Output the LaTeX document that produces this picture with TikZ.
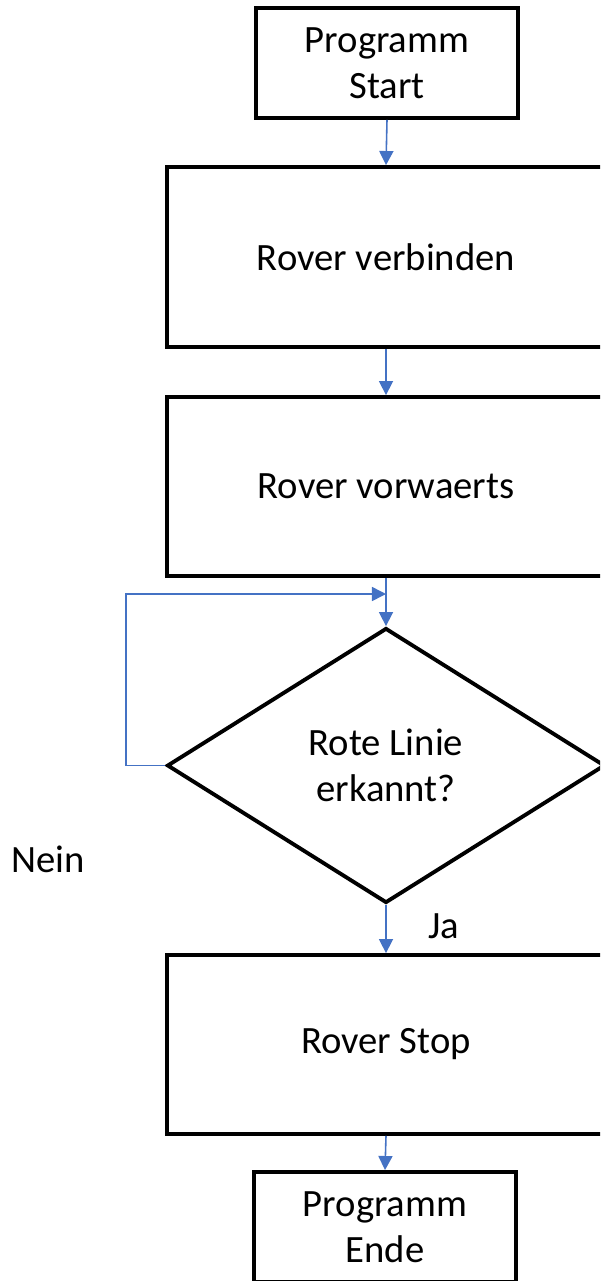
\documentclass[tikz,border=0pt]{standalone}
\usepackage{fontspec}
\setmainfont{Carlito}
\usetikzlibrary{shapes.geometric, arrows.meta, positioning}
\definecolor{flowblue}{RGB}{68,114,196}

\begin{document}
\begin{tikzpicture}[x=0.02cm, y=-0.02cm,
  box/.style={draw, line width=2.2pt, align=center, font=\fontsize{22}{26}\selectfont},
  flow/.style={draw=flowblue, line width=0.9pt, -{Triangle[length=8pt,width=8pt]}},
  lbl/.style={font=\fontsize{22}{26}\selectfont}]
  \useasboundingbox (0,0) rectangle (600,1281);
  \clip (0,0) rectangle (600,1281);
  % boxes
  \node[box, minimum width=5.24cm, minimum height=2.2cm] (start) at (387,63) {Programm\\Start};
  \node[box, minimum width=8.76cm, minimum height=3.6cm] (connect) at (386,257) {Rover verbinden};
  \node[box, minimum width=8.76cm, minimum height=3.58cm] (forward) at (386,486.5) {Rover vorwaerts};
  \node[box, diamond, minimum width=8.76cm, minimum height=5.5cm] (check) at (386,765.5) {Rote Linie\\erkannt?};
  \node[box, minimum width=8.76cm, minimum height=3.58cm] (stop) at (386,1044.5) {Rover Stop};
  \node[box, minimum width=5.24cm, minimum height=2.2cm] (finish) at (385,1227) {Programm\\Ende};
  % labels
  \node[lbl] (no) at (48,859) {Nein};
  \node[lbl] (yes) at (444,926) {Ja};
  % arrows
  \coordinate (loopin) at (386,594);
  \draw[flow] (start.south) -- (connect.north);
  \draw[flow] (connect.south) -- (forward.north);
  \draw[flow] (forward.south) -- (check.north);
  \draw[flow] (check.west) -- ++(-39,0) |- (loopin);
  \draw[flow] (check.south) -- (stop.north);
  \draw[flow] (stop.south) -- (finish.north);
\end{tikzpicture}
\end{document}
